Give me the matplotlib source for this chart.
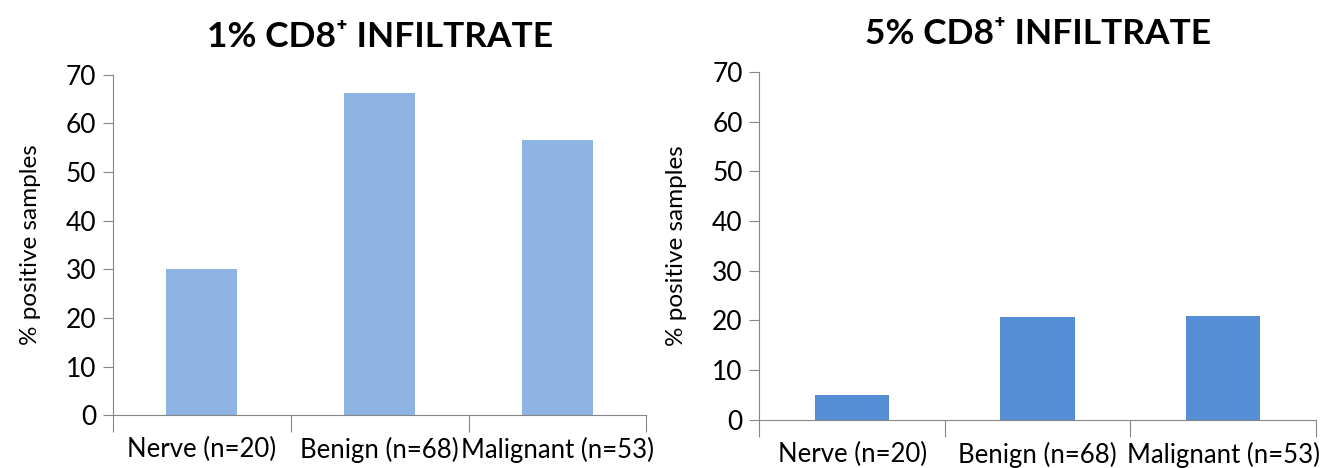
import matplotlib
matplotlib.use('Agg')
import matplotlib.pyplot as plt
import numpy as np

plt.rcParams['font.family'] = ['Lato', 'DejaVu Sans']

categories = ['Nerve (n=20)', 'Benign (n=68)', 'Malignant (n=53)']
pct_1 = [30.0, 66.2, 56.6]
pct_5 = [5.0, 20.6, 20.8]
titles = ['1% CD8\u207a INFILTRATE', '5% CD8\u207a INFILTRATE']
colors = ['#8EB4E3', '#558ED5']
yticks = [0, 10, 20, 30, 40, 50, 60, 70]

fig = plt.figure(figsize=(13.44, 4.68), dpi=100)
ax1 = fig.add_axes([0.084, 0.113, 0.397, 0.727])
ax2 = fig.add_axes([0.565, 0.103, 0.414, 0.743])

axis_grey = '#868686'
for ax, vals, title, col in zip([ax1, ax2], [pct_1, pct_5], titles, colors):
    x = np.arange(len(categories))
    ax.bar(x, vals, width=0.4, color=col, edgecolor='none')
    ax.set_xlim(-0.5, len(categories) - 0.5)
    ax.set_ylim(0, 70)
    ax.set_yticks(yticks)
    ax.tick_params(axis='y', labelsize=19, length=7, color=axis_grey, pad=5)
    # ticks at category boundaries, labels at centres
    ax.set_xticks(np.arange(-0.5, len(categories)), minor=False)
    ax.set_xticklabels([])
    ax.set_xticks(x, minor=True)
    ax.set_xticklabels(categories, minor=True, fontsize=18.5)
    ax.tick_params(axis='x', which='major', length=12, color=axis_grey)
    ax.tick_params(axis='x', which='minor', length=0, pad=16)
    for s in ['top', 'right']:
        ax.spines[s].set_visible(False)
    for s in ['left', 'bottom']:
        ax.spines[s].set_color(axis_grey)
    ax.set_ylabel('% positive samples', fontsize=17.5, labelpad=18)
    ax.set_title(title, fontsize=25.5, fontweight='bold', pad=20)

fig.savefig('out.png', dpi=100)
